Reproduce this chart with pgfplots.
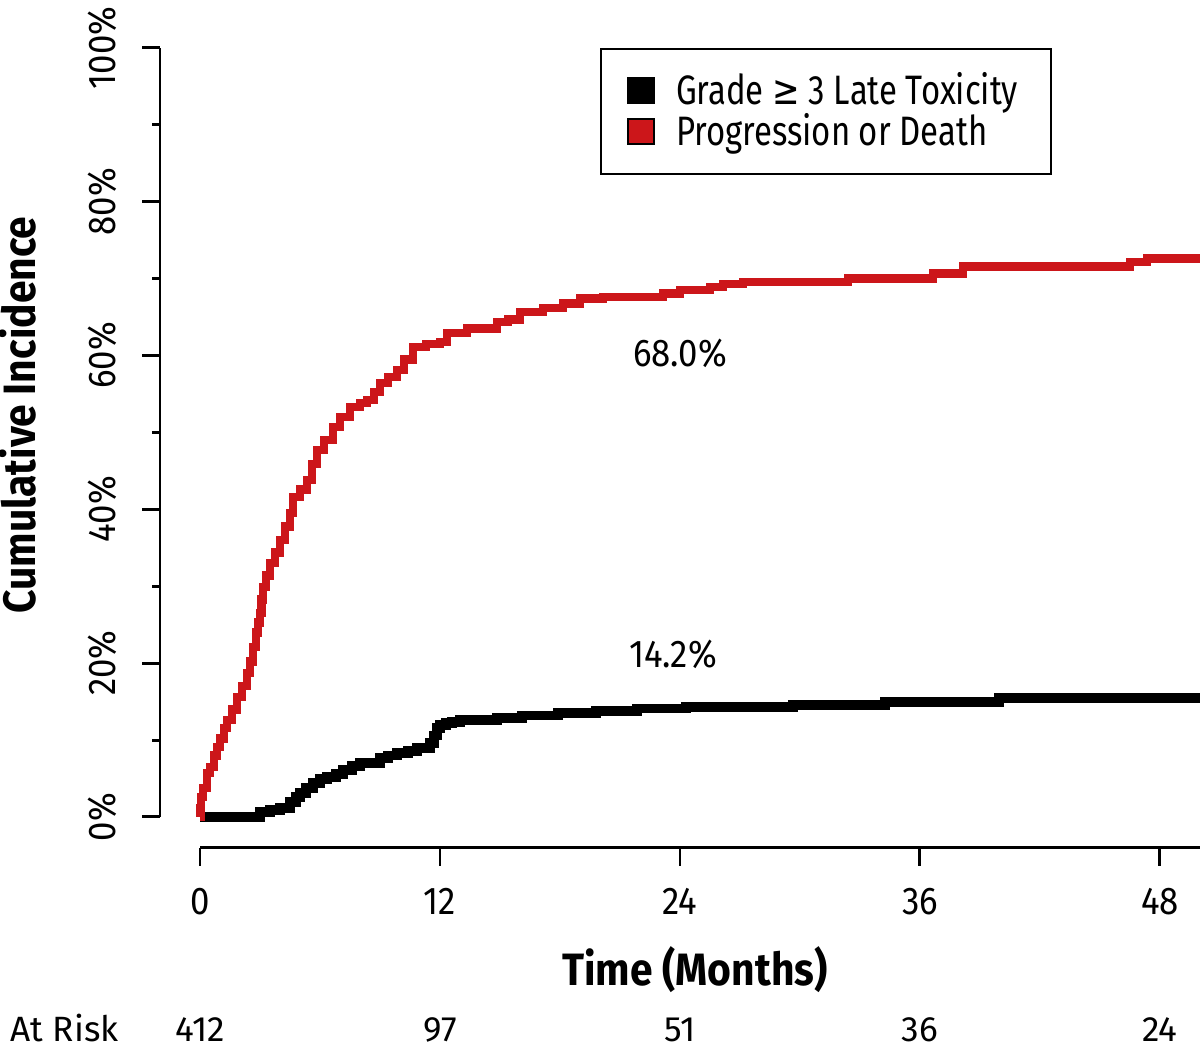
\documentclass[border=0pt]{standalone}
\usepackage{pgfplots}
\pgfplotsset{compat=1.18}
\usepackage{fontspec}
\setmainfont{Fira Sans}[FakeStretch=0.8]
\newfontfamily\labfont{Fira Sans}[FakeStretch=0.9]
\newfontfamily\riskfont{Fira Sans}
\newfontfamily\symfont{DejaVu Sans}[FakeStretch=0.8]
\definecolor{cired}{RGB}{204,22,26}

\pgfplotstableread{
t p
0 0
0.02 1.2
0.05 2.6
0.15 3.8
0.35 5.7
0.5 6.5
0.7 8.0
0.85 9.1
1.0 10.2
1.2 11.6
1.35 12.6
1.6 14.0
1.85 15.6
2.1 17.0
2.35 18.7
2.5 20.2
2.65 22.1
2.8 24.0
2.9 25.3
3.0 26.5
3.08 28.3
3.15 29.9
3.3 31.4
3.5 33.0
3.75 34.4
4.0 36.0
4.25 37.8
4.5 39.5
4.65 41.6
5.0 42.6
5.35 43.8
5.6 45.9
5.85 47.7
6.2 49.0
6.65 50.7
7.0 52.0
7.5 53.3
8.0 53.8
8.35 54.2
8.7 55.3
9.0 56.4
9.4 57.2
9.85 58.1
10.2 59.5
10.65 61.1
11.3 61.5
12.0 61.8
12.35 62.9
13.35 63.5
14.85 64.4
15.4 64.7
16.0 65.7
17.15 66.2
18.15 66.8
19.0 67.4
20.15 67.6
23.15 68.1
24.0 68.5
25.5 68.9
26.15 69.3
27.15 69.6
32.4 70.0
36.65 70.7
38.15 71.6
46.5 72.2
47.35 72.6
50 72.6
}\progdata

\pgfplotstableread{
t p
0 0
2.5 0
3.0 0.65
3.5 0.9
4.0 1.2
4.5 2.0
4.8 2.6
5.0 3.1
5.3 3.8
5.65 4.4
6.0 4.9
6.35 5.2
6.8 5.6
7.15 6.1
7.6 6.6
8.0 7.0
9.0 7.7
9.4 8.0
9.85 8.3
10.4 8.6
10.85 9.0
11.5 9.6
11.7 10.6
11.85 11.6
12.0 12.0
12.3 12.2
12.6 12.4
13.0 12.6
14.85 12.9
16.1 13.2
17.9 13.5
19.8 13.8
21.85 14.1
24.3 14.3
29.65 14.6
34.25 15.0
39.95 15.5
50 15.5
}\toxdata

\begin{document}
\begin{tikzpicture}
\path[use as bounding box] (0,0) rectangle (12cm,10.46cm);
\begin{axis}[
  at={(1.6cm,1.98cm)}, anchor=south west,
  scale only axis, width=10.4cm, height=8cm,
  xmin=-2, xmax=50, ymin=-4.031, ymax=100,
  axis lines*=left,
  axis line style={draw=none},
  tick align=outside,
  xtick={0,12,24,36,48},
  ytick={0,20,40,60,80,100},
  minor ytick={10,30,50,70,90},
  major tick length=0.18cm,
  minor tick length=0.08cm,
  every tick/.style={black, line width=0.85pt},
  /pgf/number format/assume math mode=true,
  yticklabel={\pgfmathprintnumber{\tick}\%},
  yticklabel style={rotate=90, anchor=south, inner ysep=0.25cm, font=\labfont\fontsize{11}{13}\selectfont},
  xticklabel style={yshift=-0.1cm, font=\labfont\fontsize{11}{13}\selectfont},
  clip=false,
  legend cell align=left,
  legend style={at={(axis cs:20,100)}, anchor=north west, draw=black, line width=0.7pt,
    font=\fontsize{11.7}{14}\selectfont, inner xsep=0.26cm, inner ysep=0.16cm, row sep=-0.1cm,
    /tikz/every odd column/.append style={column sep=0.14cm}},
]
\addplot[const plot, color=black, line width=2.8pt,
  legend image code/.code={\draw[fill=black, draw=black, line width=0.5pt] (0cm,-0.12cm) rectangle (0.26cm,0.13cm);}]
  table[x=t, y=p] {\toxdata};
\addlegendentry{Grade {\symfont ≥} 3 Late Toxicity}
\addplot[const plot, color=cired, line width=2.4pt,
  legend image code/.code={\draw[fill=cired, draw=black, line width=0.5pt] (0cm,-0.12cm) rectangle (0.26cm,0.13cm);}]
  table[x=t, y=p] {\progdata};
\addlegendentry{Progression or Death}
\draw[line width=0.85pt] (axis cs:-2,0) -- (axis cs:-2,100);
\draw[line width=0.85pt] (axis cs:0,-4.031) -- (axis cs:50,-4.031);
\node[font=\labfont\fontsize{11}{13}\selectfont] at (axis cs:24,60.3) {68.0\%};
\node[font=\labfont\fontsize{11}{13}\selectfont] at (axis cs:23.65,21.1) {14.2\%};
\end{axis}
\node[rotate=90, font=\labfont\bfseries\fontsize{12.9}{15}\selectfont] at (0.18cm,6.31cm) {Cumulative Incidence};
\node[font=\labfont\bfseries\fontsize{12.9}{15}\selectfont] at (6.95cm,0.76cm) {Time (Months)};
\begin{scope}[every node/.style={font=\riskfont\fontsize{10}{12}\selectfont, anchor=base, inner sep=0pt}]
\node[anchor=base west] at (0.10cm,0.04cm) {At Risk};
\node at (2.00cm,0.04cm) {412};
\node at (4.40cm,0.04cm) {97};
\node at (6.80cm,0.04cm) {51};
\node at (9.20cm,0.04cm) {36};
\node at (11.60cm,0.04cm) {24};
\end{scope}
\end{tikzpicture}
\end{document}
